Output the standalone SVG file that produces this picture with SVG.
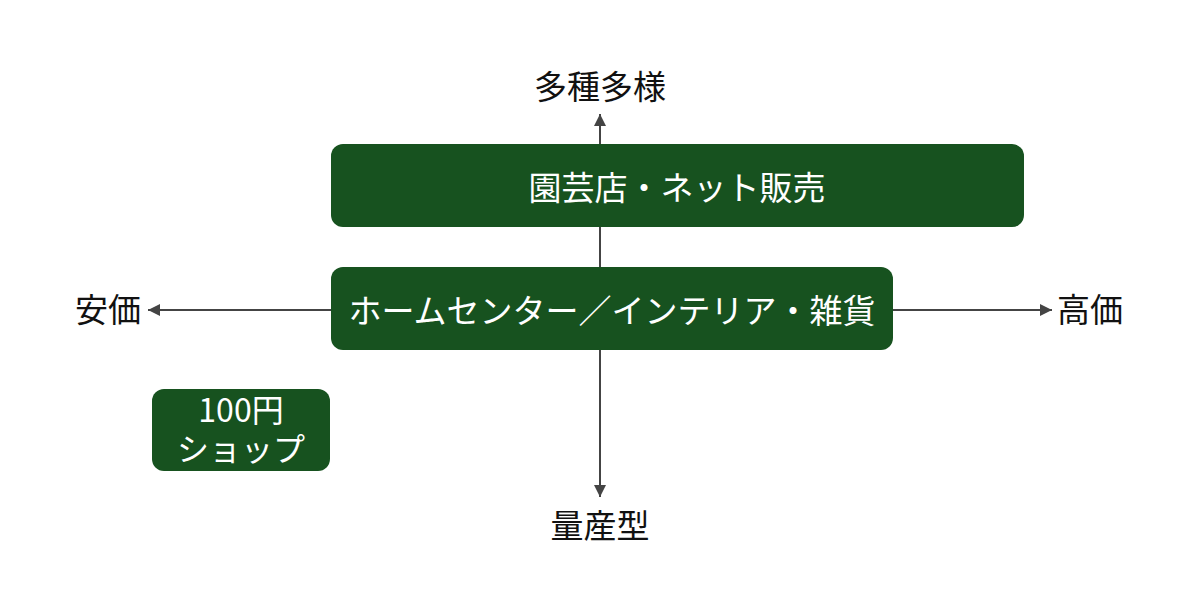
<svg xmlns="http://www.w3.org/2000/svg" width="1200" height="611" viewBox="0 0 1200 611">
<style>
.box{fill:#17521f}
.wt{fill:#fff;font-family:"Noto Sans CJK JP","Noto Sans",sans-serif;font-size:33px;text-anchor:middle;dominant-baseline:central}
.lb{fill:#111;font-family:"Noto Sans CJK JP","Noto Sans",sans-serif;font-size:33px;text-anchor:middle;dominant-baseline:central}
.ax{stroke:#444;stroke-width:2;fill:none}
</style>
<defs>
<marker id="ah" viewBox="0 0 10 10" refX="10" refY="5" markerWidth="12" markerHeight="12" markerUnits="userSpaceOnUse" orient="auto">
<path d="M0,0 L10,5 L0,10 z" fill="#444"/>
</marker>
</defs>
<rect width="1200" height="611" fill="#fff"/>
<g id="connectors">
<line class="ax" x1="600" y1="310" x2="600" y2="114" marker-end="url(#ah)"/>
<line class="ax" x1="600" y1="310" x2="600" y2="497" marker-end="url(#ah)"/>
<line class="ax" x1="600" y1="310" x2="148" y2="310" marker-end="url(#ah)"/>
<line class="ax" x1="600" y1="310" x2="1052" y2="310" marker-end="url(#ah)"/>
</g>
<g id="top-box">
<rect class="box" x="331" y="144" width="693" height="83" rx="12"/>
<text class="wt" x="677" y="186">園芸店・ネット販売</text>
</g>
<g id="mid-box">
<rect class="box" x="331" y="267" width="562" height="83" rx="12"/>
<text class="wt" x="612" y="309">ホームセンター／インテリア・雑貨</text>
</g>
<g id="shop-box">
<rect class="box" x="152" y="389" width="178" height="82" rx="12"/>
<text class="wt" style="font-size:32px;dominant-baseline:auto"><tspan x="241" y="422">100円</tspan><tspan x="241" y="461">ショップ</tspan></text>
</g>
<g id="labels">
<text class="lb" x="600" y="85">多種多様</text>
<text class="lb" x="600" y="524">量産型</text>
<text class="lb" x="108" y="308">安価</text>
<text class="lb" x="1090" y="308">高価</text>
</g>
</svg>
